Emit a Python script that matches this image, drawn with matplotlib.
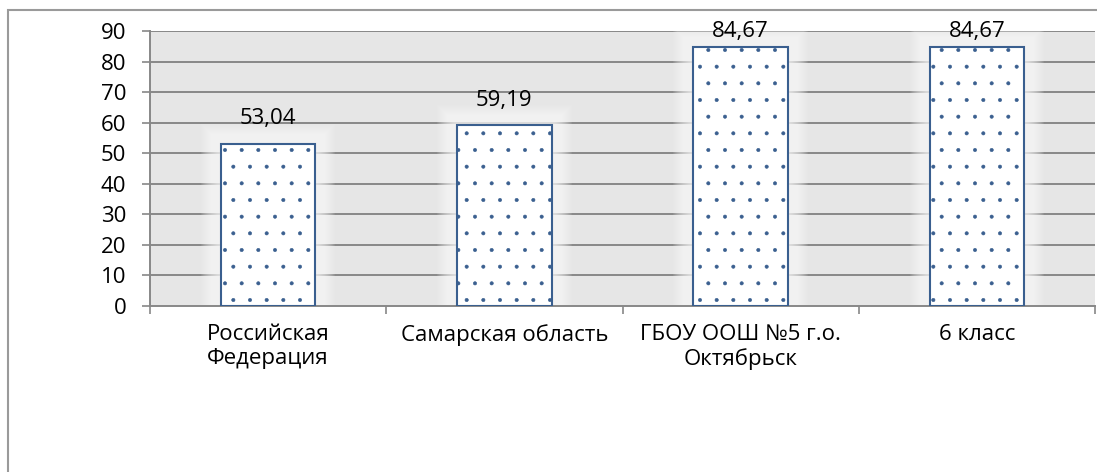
from matplotlib import pyplot as plt
from matplotlib.patches import Rectangle
import numpy as np

CATEGORIES = ['Российская\nФедерация', 'Самарская область', 'ГБОУ ООШ №5 г.о.\nОктябрьск', '6 класс']
VALUES = [53.04, 59.19, 84.67, 84.67]
Y_TICKS = list(range(0, 100, 10))

plt.rcParams['font.family'] = ['Open Sans', 'DejaVu Sans']
plt.rcParams['hatch.color'] = '#6a93c6'
plt.rcParams['hatch.linewidth'] = 0.4

fig = plt.figure(figsize=(10.97, 4.72), dpi=100)
ax = fig.add_axes([150 / 1097, 1 - 306 / 472, 945 / 1097, 275 / 472])
ax.set_facecolor('#e6e6e6')

# chart frame (cut off on the right and bottom like the original)
fig.patches.append(Rectangle((8 / 1097, -0.1), 1.2, 1 - 10 / 472 + 0.1, transform=fig.transFigure,
                             fill=False, edgecolor='#9a9a9a', linewidth=1.5, zorder=0))

x = np.arange(len(VALUES))
width = 0.4

for v in Y_TICKS[1:]:
    ax.axhline(v, color='#888888', linewidth=1.4, zorder=1)

# soft white glow around bars
px_x = 1 / 236.0
px_y = 90 / 275.0
for k in range(20, 0, -1):
    d = 1.0 * k
    for xi, v in zip(x, VALUES):
        ax.add_patch(Rectangle((xi - width / 2 - d * px_x, 0), width + 2 * d * px_x, v + d * px_y,
                               facecolor='white', edgecolor='none', alpha=0.07, zorder=2))

ax.bar(x, VALUES, width=width, color='white', edgecolor='#3a5f8f', linewidth=1.5,
       hatch='.', zorder=3)

# labels above bars, pushed down to stay inside the plot like Excel does
for xi, v in zip(x, VALUES):
    ax.text(xi, min(v + 8.2, 89.7), f'{v:.2f}'.replace('.', ','), ha='center', va='center',
            fontsize=16, zorder=4)

ax.set_xlim(-0.5, len(VALUES) - 0.5)
ax.set_ylim(0, 90)
ax.set_yticks(Y_TICKS)
ax.set_yticklabels([str(t) for t in Y_TICKS])
ax.set_xticks(np.arange(len(VALUES) + 1) - 0.5)
ax.set_xticklabels([])
ax.set_xticks(x, minor=True)
ax.set_xticklabels(CATEGORIES, minor=True, fontsize=16, linespacing=1.2, va='top')
ax.tick_params(axis='x', which='major', length=6, width=1.2, color='#888888', direction='out')
ax.tick_params(axis='x', which='minor', length=0, pad=13)
ax.tick_params(axis='y', length=6, width=1.2, color='#888888', direction='out', pad=11, labelsize=16)

for side in ['top', 'right']:
    ax.spines[side].set_visible(False)
for side in ['left', 'bottom']:
    ax.spines[side].set_color('#888888')
    ax.spines[side].set_linewidth(1.4)

fig.savefig('out.png', dpi=100)
